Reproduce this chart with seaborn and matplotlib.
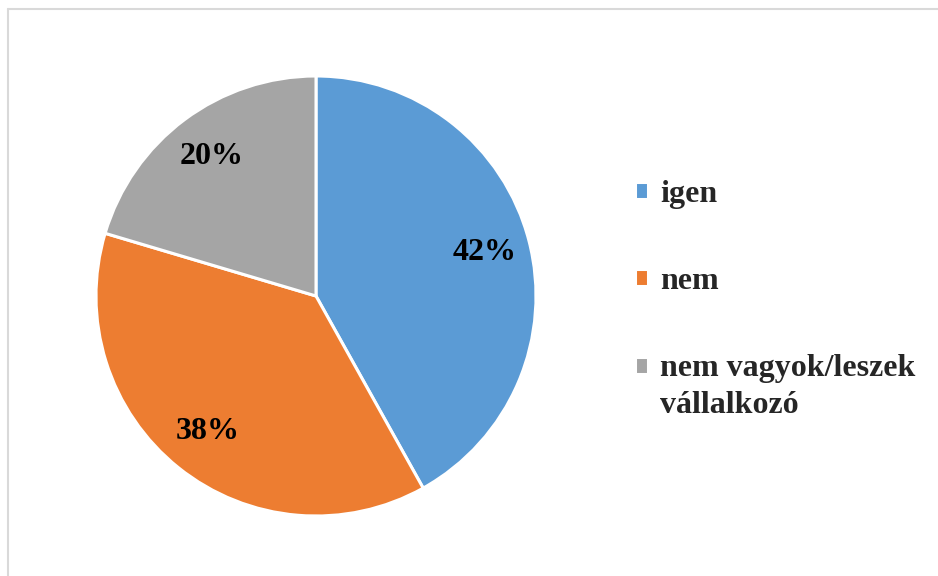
import matplotlib
matplotlib.use("Agg")
import matplotlib.pyplot as plt
from matplotlib.lines import Line2D
import seaborn as sns

# data
categories = ["igen", "nem", "nem vagyok/leszek\nvállalkozó"]
shares = [41.9, 37.7, 20.4]
colors = ["#5B9BD5", "#ED7D31", "#A5A5A5"]

sns.set_theme(style="white")
plt.rcParams['font.family'] = ['Liberation Serif', 'DejaVu Serif']
plt.rcParams['font.weight'] = 'bold'

W, H = 938, 576
fig = plt.figure(figsize=(W / 100, H / 100), dpi=100)
fig.patch.set_facecolor("white")

# pie area: center (316, 296), radius 220 px
cx, cy, r = 316, 296, 220
ax = fig.add_axes([(cx - r) / W, (H - cy - r) / H, 2 * r / W, 2 * r / H])
wedges, texts, autotexts = ax.pie(
    shares, colors=sns.color_palette(colors), startangle=90, counterclock=False,
    autopct=lambda p: "%d%%" % round(p), pctdistance=0.79,
    wedgeprops=dict(edgecolor="white", linewidth=2.2),
    textprops=dict(fontsize=23, fontweight="bold", color="black"))
ax.set_xlim(-1, 1)
ax.set_ylim(-1, 1)
ax.set_aspect("equal")
ax.axis("off")

leg = fig.legend(wedges, categories, loc="upper left",
                 bbox_to_anchor=(606 / W, 1 - 151 / H), frameon=False,
                 prop=dict(family="Liberation Serif", weight="bold", size=23),
                 handlelength=0.42, handleheight=0.42, handletextpad=0.37,
                 labelspacing=1.82)
leg.get_texts()[2].set_linespacing(1.35)
# put the marker of the two-line entry on its first line
h = leg.legend_handles[2]
h.set_y(h.get_y() + 15)

# chart border (top and left edges visible)
fig.add_artist(Line2D([8 / W, 1.0], [1 - 9 / H, 1 - 9 / H], color="#D9D9D9", lw=1.5))
fig.add_artist(Line2D([8 / W, 8 / W], [0.0, 1 - 9 / H], color="#D9D9D9", lw=1.5))

fig.savefig("out.png", dpi=100, facecolor="white")
